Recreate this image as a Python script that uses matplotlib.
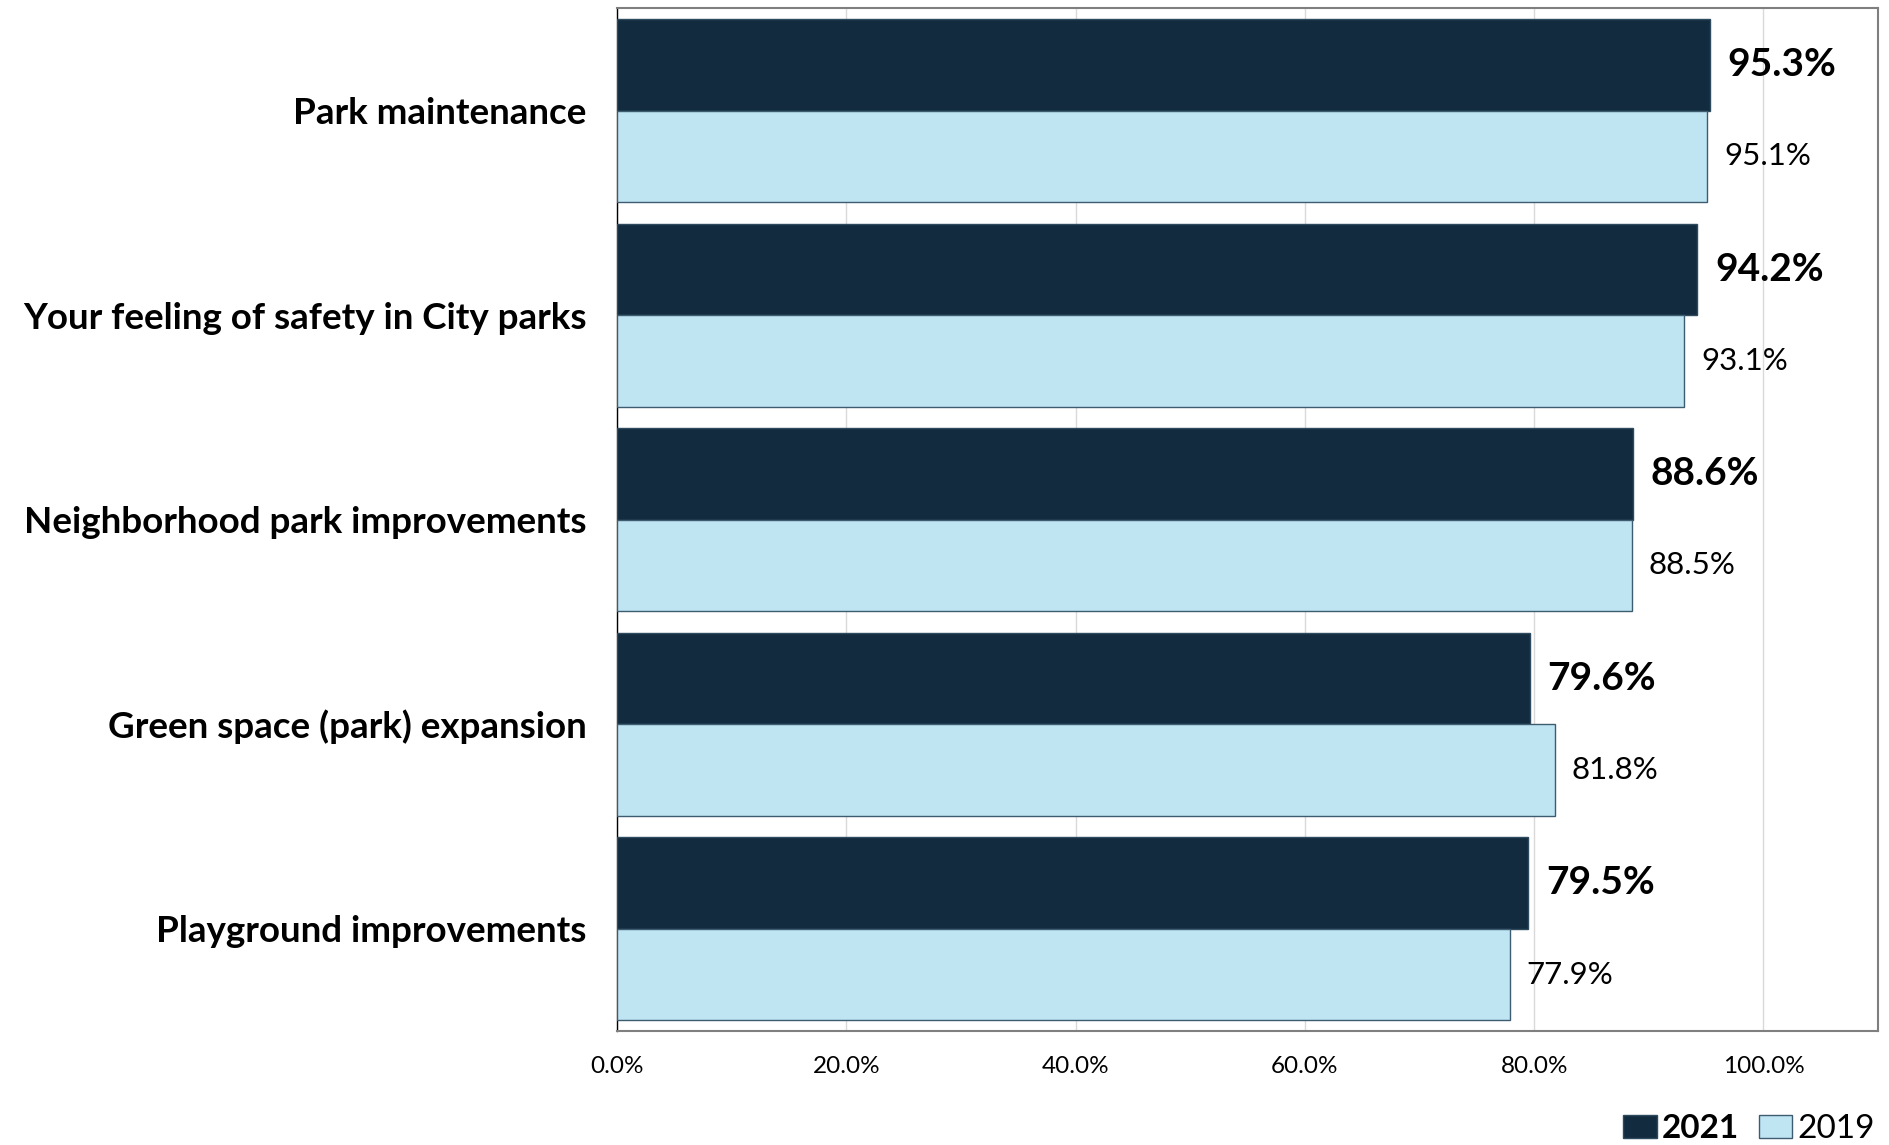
import matplotlib
matplotlib.use("Agg")
import matplotlib.pyplot as plt
import numpy as np
from matplotlib.patches import Patch

categories = ["Park maintenance", "Your feeling of safety in City parks",
              "Neighborhood park improvements", "Green space (park) expansion",
              "Playground improvements"]
values_2021 = [95.3, 94.2, 88.6, 79.6, 79.5]
values_2019 = [95.1, 93.1, 88.5, 81.8, 77.9]
xticks = [0, 20, 40, 60, 80, 100]
xtick_labels = ["0.0%", "20.0%", "40.0%", "60.0%", "80.0%", "100.0%"]

FONT = ["Lato", "DejaVu Sans"]
plt.rcParams['font.family'] = FONT

dark = "#132b3e"
light = "#bfe4f2"

fig = plt.figure(figsize=(18.9, 11.45), dpi=100)
ax = fig.add_axes([0.3265, 0.0996, 0.9937 - 0.3265, 0.9927 - 0.0996])

y = np.arange(len(categories))
h = 0.448
ax.barh(y - h / 2, values_2021, height=h, color=dark, edgecolor="#2e4a5e", linewidth=1, zorder=3)
ax.barh(y + h / 2, values_2019, height=h, color=light, edgecolor="#3e5c70", linewidth=1, zorder=3)

for yi, v in zip(y, values_2021):
    ax.annotate(f"{v:.1f}%", (v, yi - h / 2), xytext=(13, 0), textcoords="offset points",
                va="center", ha="left", fontsize=28, fontweight="bold", color="black")
for yi, v in zip(y, values_2019):
    ax.annotate(f"{v:.1f}%", (v, yi + h / 2), xytext=(12, 0), textcoords="offset points",
                va="center", ha="left", fontsize=22.5, color="black")

ax.set_xlim(0, 110)
ax.set_ylim(len(categories) - 0.5, -0.5)
ax.set_yticks(y)
ax.set_yticklabels(categories, fontsize=26.5, fontweight="bold")
ax.set_xticks(xticks)
ax.set_xticklabels(xtick_labels, fontsize=17.5)
ax.tick_params(axis="y", length=0, pad=22)
ax.tick_params(axis="x", length=0, pad=18)
ax.grid(axis="x", color="#d9d9d9", linewidth=1, zorder=0)
ax.set_axisbelow(True)
for s in ["top", "right", "bottom"]:
    ax.spines[s].set_color("#7f7f7f")
    ax.spines[s].set_linewidth(1.5)
ax.spines["left"].set_color("black")
ax.spines["left"].set_linewidth(1)

handles = [Patch(facecolor=dark, edgecolor="#2e4a5e"), Patch(facecolor=light, edgecolor="#3e5c70")]
leg = fig.legend(handles, ["2021", "2019"], loc="lower right", bbox_to_anchor=(0.999, -0.011),
                 ncol=2, frameon=False, fontsize=24, handlelength=1.0, handleheight=0.7,
                 handletextpad=0.15, columnspacing=0.6, borderaxespad=0.0)
leg.get_texts()[0].set_fontweight("bold")

fig.savefig("out.png", dpi=100)
